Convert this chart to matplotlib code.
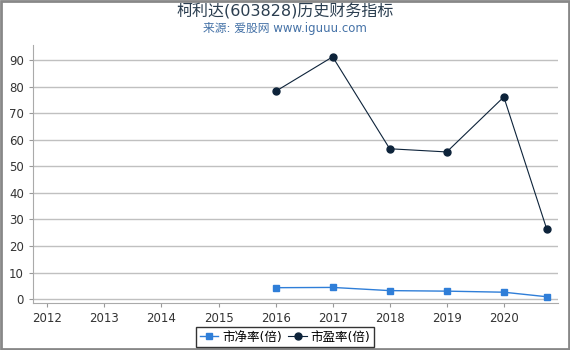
import matplotlib
matplotlib.use('Agg')
import matplotlib.pyplot as plt

plt.rcParams['font.family'] = ['DejaVu Sans', 'Noto Sans CJK SC']

years = [2016, 2017, 2018, 2019, 2020, 2020.75]
pb = [4.3, 4.4, 3.2, 3.0, 2.6, 0.9]
pe = [78.2, 91.2, 56.6, 55.4, 76.1, 26.5]
xticks = [2012, 2013, 2014, 2015, 2016, 2017, 2018, 2019, 2020]
yticks = [0, 10, 20, 30, 40, 50, 60, 70, 80, 90]

fig = plt.figure(figsize=(5.7, 3.5), dpi=100)
ax = fig.add_axes([0.058, 0.134, 0.921, 0.737])

ax.plot(years, pb, color='#2f7ed8', marker='s', markersize=5, linewidth=1, label='市净率(倍)')
ax.plot(years, pe, color='#0d233a', marker='o', markersize=5, linewidth=0.8, label='市盈率(倍)')

ax.set_xlim(2011.75, 2020.95)
ax.set_ylim(-1.5, 95.6)
ax.set_xticks(xticks)
ax.set_yticks(yticks)
ax.tick_params(labelsize=8.5, colors='#333333', length=3, color='#999999')
ax.yaxis.grid(True, color='#c0c0c0', linewidth=1)
ax.set_axisbelow(True)
for s in ['top', 'right']:
    ax.spines[s].set_visible(False)
for s in ['left', 'bottom']:
    ax.spines[s].set_color('#aaaaaa')

fig.text(0.5, 0.966, '柯利达(603828)历史财务指标', ha='center', va='center', fontsize=11.5, color='#2b3e50')
fig.text(0.5, 0.918, '来源: 爱股网 www.iguuu.com', ha='center', va='center', fontsize=8.5, color='#4572a7')

leg = fig.legend(loc='center', bbox_to_anchor=(0.5, 0.037), ncol=2, fontsize=9, frameon=True,
                 fancybox=False, edgecolor='black', handlelength=1.5, handletextpad=0.3,
                 columnspacing=0.5, borderpad=0.3)
leg.get_frame().set_linewidth(1)

fig.add_artist(plt.Rectangle((0.001, 0.002), 0.997, 0.996, transform=fig.transFigure,
                             fill=False, edgecolor='#888888', linewidth=2))

fig.savefig('out.png', dpi=100)
